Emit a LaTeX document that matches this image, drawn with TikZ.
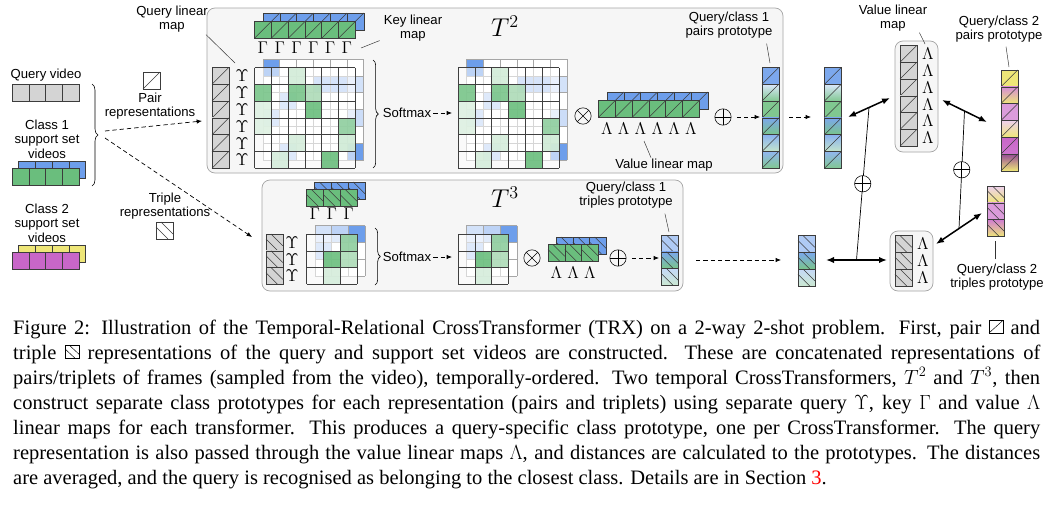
\RequirePackage{fix-cm}
\documentclass[tikz,border=0pt]{standalone}
\usepackage{fontspec}
\setmainfont{Liberation Serif}
\newfontfamily\labelfont{Liberation Sans}
\usetikzlibrary{arrows.meta}
\usetikzlibrary{decorations.pathreplacing}
\usepackage{amsmath}

\definecolor{vblue}{RGB}{109,158,235}
\definecolor{vgreen}{RGB}{106,190,125}
\definecolor{vyellow}{RGB}{238,230,120}
\definecolor{vmagenta}{RGB}{200,102,200}
\definecolor{qgray}{RGB}{212,212,212}
\definecolor{boxfill}{RGB}{246,246,246}
\definecolor{boxline}{RGB}{165,165,165}
\definecolor{edgegray}{RGB}{60,60,60}

\newcommand{\csz}{16.8}  % cell size in px
\newcommand{\offs}{8.4}  % offset of the second support video

\tikzset{
	cellline/.style={draw=edgegray, line width=0.45pt},
	backgrid/.style={draw=black!35, line width=0.4pt},
	frontgrid/.style={draw=black!75, line width=0.5pt},
	tfbox/.style={draw=boxline, fill=boxfill, rounded corners=2.4mm, line width=0.6pt},
	lbl/.style={font=\labelfont\fontsize{11.2}{12.4}\selectfont, align=center, inner sep=0pt},
	sym/.style={font=\fontsize{14.5}{14.5}\selectfont, inner sep=0pt},
	leader/.style={draw=black!80, line width=0.4pt},
	flow/.style={draw=black, line width=0.6pt, dash pattern=on 1.3mm off 0.9mm, -{Latex[length=1.6mm,width=1.3mm]}},
	dbl/.style={draw=black, line width=1.3pt, {Latex[length=2.4mm,width=1.9mm]}-{Latex[length=2.4mm,width=1.9mm]}},
	thinline/.style={draw=black, line width=0.6pt},
	oplus/.style={circle, draw, line width=0.5pt, minimum size=4.9mm, inner sep=0pt,
		path picture={\draw[line width=0.5pt] (path picture bounding box.north) -- (path picture bounding box.south)
			(path picture bounding box.west) -- (path picture bounding box.east);}},
	otimes/.style={circle, draw, line width=0.5pt, minimum size=4.9mm, inner sep=0pt,
		path picture={\draw[line width=0.5pt] (path picture bounding box.north west) -- (path picture bounding box.south east)
			(path picture bounding box.south west) -- (path picture bounding box.north east);}},
	captxt/.style={anchor=base west, inner sep=0pt, font=\fontsize{17.5}{21}\selectfont},
}

\newcommand{\vidrow}[3] % x, y of top left corner, colour
{
	\foreach \k in {0,...,3}
		{\draw[cellline, fill=#3] ({#1+\k*\csz},{#2}) rectangle ++(\csz,\csz);}
}
\newcommand{\pcell}[4] % x, y of top left corner, top colour, bottom colour (pair cell)
{
	\shade[top color=#3, bottom color=#4] ({#1},{#2}) rectangle ++(\csz,\csz);
	\draw[cellline] ({#1},{#2}) rectangle ++(\csz,\csz);
	\draw[cellline] ({#1},{#2+\csz}) -- ++(\csz,-\csz);
}
\newcommand{\tcell}[4] % x, y of top left corner, top colour, bottom colour (triple cell)
{
	\shade[top color=#3, bottom color=#4] ({#1},{#2}) rectangle ++(\csz,\csz);
	\draw[cellline] ({#1},{#2}) rectangle ++(\csz,\csz);
	\draw[cellline] ({#1},{#2+0.3*\csz}) -- ({#1+0.7*\csz},{#2+\csz});
	\draw[cellline] ({#1+0.3*\csz},{#2}) -- ({#1+\csz},{#2+0.7*\csz});
}
\newcommand{\paircol}[3] % x, y, number of cells (grey query column)
{
	\foreach \k in {1,...,#3}
		{\pcell{#1}{#2+(\k-1)*\csz}{qgray}{qgray}}
}
\newcommand{\tripcol}[3] % x, y, number of cells
{
	\foreach \k in {1,...,#3}
		{\tcell{#1}{#2+(\k-1)*\csz}{qgray}{qgray}}
}
\newcommand{\pairrow}[4] % x, y, number of cells, colour
{
	\foreach \k in {1,...,#3}
		{\pcell{#1+(\k-1)*\csz}{#2}{#4}{#4}}
}
\newcommand{\triprow}[4] % x, y, number of cells, colour
{
	\foreach \k in {1,...,#3}
		{\tcell{#1+(\k-1)*\csz}{#2}{#4}{#4}}
}
\newcommand{\proto}[4] % x, y, cell macro, list of top/bottom colours
{
	\foreach \ct/\cb [count=\k from 0] in #4
		{#3{#1}{#2+\k*\csz}{\ct}{\cb}}
}
\newcommand{\attnmap}[5] % x, y of front grid, size, back cells, front cells (row/col/strength)
{
	% back layer
	\fill[white] ({#1+\offs},{#2-\offs}) rectangle ++({#3*\csz},{#3*\csz});
	\foreach \rw/\cl/\st in #4
		{\fill[vblue!\st] ({#1+\offs+\cl*\csz},{#2-\offs+\rw*\csz}) rectangle ++(\csz,\csz);}
	\foreach \k in {0,...,#3}
	{
		\draw[backgrid] ({#1+\offs+\k*\csz},{#2-\offs}) -- ++(0,{#3*\csz});
		\draw[backgrid] ({#1+\offs},{#2-\offs+\k*\csz}) -- ++({#3*\csz},0);
	}
	% front layer
	\fill[white, opacity=0.55] ({#1},{#2}) rectangle ++({#3*\csz},{#3*\csz});
	\foreach \rw/\cl/\st in #5
		{\fill[vgreen!\st, opacity=0.9] ({#1+\cl*\csz},{#2+\rw*\csz}) rectangle ++(\csz,\csz);}
	\foreach \k in {0,...,#3}
	{
		\draw[frontgrid] ({#1+\k*\csz},{#2}) -- ++(0,{#3*\csz});
		\draw[frontgrid] ({#1},{#2+\k*\csz}) -- ++({#3*\csz},0);
	}
}
\newcommand{\pairback}{0/0/100,1/3/60,1/4/60,1/5/30,2/1/50,3/0/50,3/5/35,5/1/50,5/5/100}
\newcommand{\pairfront}{0/2/30,1/0/90,1/2/90,1/3/55,2/0/22,2/3/100,3/0/22,3/5/75,4/2/28,4/5/32,5/1/28,5/4/100}
\newcommand{\tripback}{0/0/30,0/1/45,0/2/100,1/0/50}
\newcommand{\tripfront}{0/2/75,1/1/100,1/2/55,2/1/28}
\newcommand{\protoAcols}{vblue!90/vblue!90,vblue!25/vgreen!85,vgreen!85/vgreen!85,vblue!90/vgreen!90,vblue!80/vgreen!40,vblue!75/vgreen!85}
\newcommand{\protoBcols}{vyellow/vyellow,vmagenta!75/vyellow,vmagenta!65/vmagenta!65,vmagenta!30/vyellow,vmagenta/vmagenta!90,vmagenta!75!black/vyellow}
\newcommand{\protoCcols}{vblue!55/vblue!55,vblue!90/vgreen!90,vblue!40/vgreen!35}
\newcommand{\protoDcols}{vmagenta!30/vyellow,vmagenta!65/vmagenta!65,vmagenta!85/vyellow}
\newcommand{\pairicon}{\tikz[x=1mm,y=1mm,baseline=-0.3mm,line width=0.4pt]{\draw (0,0) rectangle (4.2,3.8); \draw (0,0) -- (4.2,3.8);}}
\newcommand{\tripicon}{\tikz[x=1mm,y=1mm,baseline=-0.3mm,line width=0.4pt]{\draw (0,0) rectangle (4.2,3.8); \draw (0,2.7) -- (2.9,0); \draw (1.3,3.8) -- (4.2,1.1);}}

\begin{document}
\begin{tikzpicture}[x=0.3mm, y=-0.3mm]
	\fill[white] (0,0) rectangle (1047,513);
	\useasboundingbox (0,0) rectangle (1047,513);

	% input videos
	\node[lbl] (lblquery) at (46,75) {Query video};
	\vidrow{12}{84}{qgray}
	\node[lbl] (lblclassA) at (47,139) {Class 1\\support set\\videos};
	\vidrow{18.5}{161}{vblue}
	\vidrow{12}{168}{vgreen}
	\node[lbl] (lblclassB) at (47,223) {Class 2\\support set\\videos};
	\vidrow{18.5}{245}{vyellow}
	\vidrow{12}{252}{vmagenta}
	\draw[decorate, decoration={brace, amplitude=1.8mm}, line width=0.5pt] (92,84) -- (92,186);
	\coordinate (splitA) at (105,131);
	\coordinate (splitB) at (105,138);

	\draw[cellline, fill=white] (143,72) rectangle ++(17,17);
	\draw[cellline] (143,89) -- (160,72);
	\node[lbl] (lblpair) at (150,106) {Pair\\representations};
	\node[lbl] (lbltriple) at (165,206) {Triple\\representations};
	\draw[cellline, fill=white] (156,222) rectangle ++(17,17);
	\draw[cellline] (156,227) -- (168,239);
	\draw[cellline] (161,222) -- (173,234);

	\coordinate (pairin) at (202,121);
	\coordinate (tripin) at (252,237);
	\draw[flow] (splitA) -- (pairin);
	\draw[flow] (splitB) -- (tripin);

	% T^2
	\draw[tfbox] (207,8) rectangle (783,173);
	\paircol{212}{67.5}{6}
	\foreach \k in {0,...,5}
		{\node[sym] (qmapA\k) at (242,{76+\csz*\k}) {$\Upsilon$};}
	\pairrow{263}{13}{6}{vblue}
	\pairrow{254.5}{21.5}{6}{vgreen}
	\foreach \k in {0,...,5}
		{\node[sym] (kmapA\k) at ({262.9+\csz*\k},48) {$\Gamma$};}
	\attnmap{254.5}{67.5}{6}{\pairback}{\pairfront}
	\node[lbl] (lblquerymap) at (172,19) {Query linear\\map};
	\coordinate (qmapAtip) at (235,63);
	\draw[leader] (lblquerymap.south east) ++(-2,2) -- (qmapAtip);
	\node[lbl] (lblkeymap) at (413,28) {Key linear\\map};
	\coordinate (kmapAtip) at (361,48);
	\draw[leader] (lblkeymap.south west) ++(-4,-1) -- (kmapAtip);

	\draw[decorate, decoration={brace, amplitude=1.6mm}, line width=0.5pt] (373,60) -- (373,168);
	\node[lbl] (softA) at (407,113) {Softmax};
	\coordinate (attnAin) at (452,113);
	\draw[flow] (softA.east) ++(2,0) -- (attnAin);
	\attnmap{458}{67.5}{6}{\pairback}{\pairfront}
	\node[font=\fontsize{22}{22}\selectfont] (titleA) at (505,26) {$T^2$};

	\node[otimes] (mulA) at (583,116) {};
	\pairrow{607}{92}{6}{vblue}
	\pairrow{598.5}{100.5}{6}{vgreen}
	\foreach \k in {0,...,5}
		{\node[sym] (vmapA\k) at ({606.9+\csz*\k},129) {$\Lambda$};}
	\node[lbl] (lblvalA) at (664,165) {Value linear map};
	\coordinate (vmapAtip) at (644,141);
	\draw[leader] (lblvalA.north) ++(-13,-1) -- (vmapAtip);
	\node[oplus] (addA) at (723,117) {};
	\coordinate (protoAin) at (760,117);
	\draw[flow, shorten <=1.6mm] (addA) -- (protoAin);
	\proto{762}{67.5}{\pcell}{\protoAcols}
	\node[lbl] (lblprotoA) at (729,25) {Query/class 1\\pairs prototype};
	\coordinate (protoAtip) at (770,63);
	\draw[leader] (lblprotoA.south east) ++(-6,5) -- (protoAtip);

	% T^3
	\draw[tfbox] (262,180) rectangle (683,291);
	\tripcol{266}{234}{3}
	\foreach \k in {0,...,2}
		{\node[sym] (qmapB\k) at (292,{242.4+\csz*\k}) {$\Upsilon$};}
	\triprow{314.5}{182}{3}{vblue}
	\triprow{306.5}{189.5}{3}{vgreen}
	\foreach \k in {0,...,2}
		{\node[sym] (kmapB\k) at ({314.9+\csz*\k},214) {$\Gamma$};}
	\attnmap{306.5}{234}{3}{\tripback}{\tripfront}
	\draw[decorate, decoration={brace, amplitude=1.6mm}, line width=0.5pt] (375,228) -- (375,285);
	\node[lbl] (softB) at (407,257) {Softmax};
	\coordinate (attnBin) at (452,257);
	\draw[flow] (softB.east) ++(2,0) -- (attnBin);
	\attnmap{458}{234}{3}{\tripback}{\tripfront}
	\node[font=\fontsize{22}{22}\selectfont] (titleB) at (505,197) {$T^3$};

	\node[otimes] (mulB) at (532,258) {};
	\triprow{556}{237}{3}{vblue}
	\triprow{548}{244.5}{3}{vgreen}
	\foreach \k in {0,...,2}
		{\node[sym] (vmapB\k) at ({556.4+\csz*\k},273) {$\Lambda$};}
	\node[oplus] (addB) at (618,258) {};
	\coordinate (protoBin) at (659,258);
	\draw[flow, shorten <=1.6mm] (addB) -- (protoBin);
	\proto{661.5}{235}{\tcell}{\protoCcols}
	\node[lbl] (lblprotoB) at (626,195) {Query/class 1\\triples prototype};
	\coordinate (protoBtip) at (669,232);
	\draw[leader] (lblprotoB.south east) ++(-8,5) -- (protoBtip);

	% distances to the prototypes
	\coordinate (outA) at (789,117);
	\coordinate (copyAin) at (811,117);
	\draw[flow] (outA) -- (copyAin);
	\proto{824.5}{67.5}{\pcell}{\protoAcols}
	\coordinate (outB) at (696,260);
	\coordinate (copyBin) at (781,260);
	\draw[flow] (outB) -- (copyBin);
	\proto{798}{235.5}{\tcell}{\protoCcols}

	\draw[tfbox] (895,41) rectangle (938,152);
	\paircol{900}{45.5}{6}
	\foreach \k in {0,...,5}
		{\node[sym] (vmapC\k) at (928,{53.9+\csz*\k}) {$\Lambda$};}
	\node[lbl] (lblvalC) at (893,18) {Value linear\\map};
	\coordinate (vmapCtip) at (925,44);
	\draw[leader] (lblvalC.south east) ++(-8,1) -- (vmapCtip);

	\draw[tfbox] (890,231) rectangle (933,291);
	\tripcol{895}{235.5}{3}
	\foreach \k in {0,...,2}
		{\node[sym] (vmapD\k) at (923,{243.9+\csz*\k}) {$\Lambda$};}

	\proto{1001}{70}{\pcell}{\protoBcols}
	\node[lbl] (lblprotoC) at (999,29) {Query/class 2\\pairs prototype};
	\coordinate (protoCtip) at (1009,67);
	\draw[leader] (lblprotoC.south) ++(7,4) -- (protoCtip);
	\proto{987.5}{186}{\tcell}{\protoDcols}
	\node[lbl] (lblprotoD) at (997,277) {Query/class 2\\triples prototype};
	\coordinate (protoDtip) at (995,241);
	\draw[leader] (lblprotoD.north) ++(-2,-4) -- (protoDtip);

	\coordinate (dA1) at (848,117);
	\coordinate (dA2) at (890,98);
	\draw[dbl] (dA1) -- coordinate (midA) (dA2);
	\coordinate (dB1) at (826,260);
	\coordinate (dB2) at (887,260);
	\draw[dbl] (dB1) -- coordinate (midB) (dB2);
	\draw[thinline] (midA) -- node[oplus, fill=white] (sumL) {} (midB);
	\coordinate (dC1) at (936,244);
	\coordinate (dC2) at (982,213);
	\draw[dbl] (dC1) -- coordinate (midC) (dC2);
	\coordinate (dD1) at (942,100);
	\coordinate (dD2) at (987,122);
	\draw[dbl] (dD1) -- coordinate (midD) (dD2);
	\draw[thinline] (midD) -- node[oplus, fill=white] (sumR) {} (midC);

	% caption
	\node[captxt] (cap1) at (13,334) {\makebox[308.1mm][s]{Figure 2: Illustration of the Temporal-Relational CrossTransformer (TRX) on a 2-way 2-shot problem. First, pair \pairicon{} and}};
	\node[captxt] (cap2) at (13,359) {\makebox[308.1mm][s]{triple \tripicon{} representations of the query and support set videos are constructed. These are concatenated representations of}};
	\node[captxt] (cap3) at (13,384) {\makebox[308.1mm][s]{pairs/triplets of frames (sampled from the video), temporally-ordered. Two temporal CrossTransformers, $T^2$ and $T^3$, then}};
	\node[captxt] (cap4) at (13,409) {\makebox[308.1mm][s]{construct separate class prototypes for each representation (pairs and triplets) using separate query $\Upsilon$, key $\Gamma$ and value $\Lambda$}};
	\node[captxt] (cap5) at (13,434) {\makebox[308.1mm][s]{linear maps for each transformer. This produces a query-specific class prototype, one per CrossTransformer. The query}};
	\node[captxt] (cap6) at (13,459) {\makebox[308.1mm][s]{representation is also passed through the value linear maps $\Lambda$, and distances are calculated to the prototypes. The distances}};
	\node[captxt] (cap7) at (13,484) {are averaged, and the query is recognised as belonging to the closest class. Details are in Section \textcolor{red}{3}.};
\end{tikzpicture}
\end{document}
